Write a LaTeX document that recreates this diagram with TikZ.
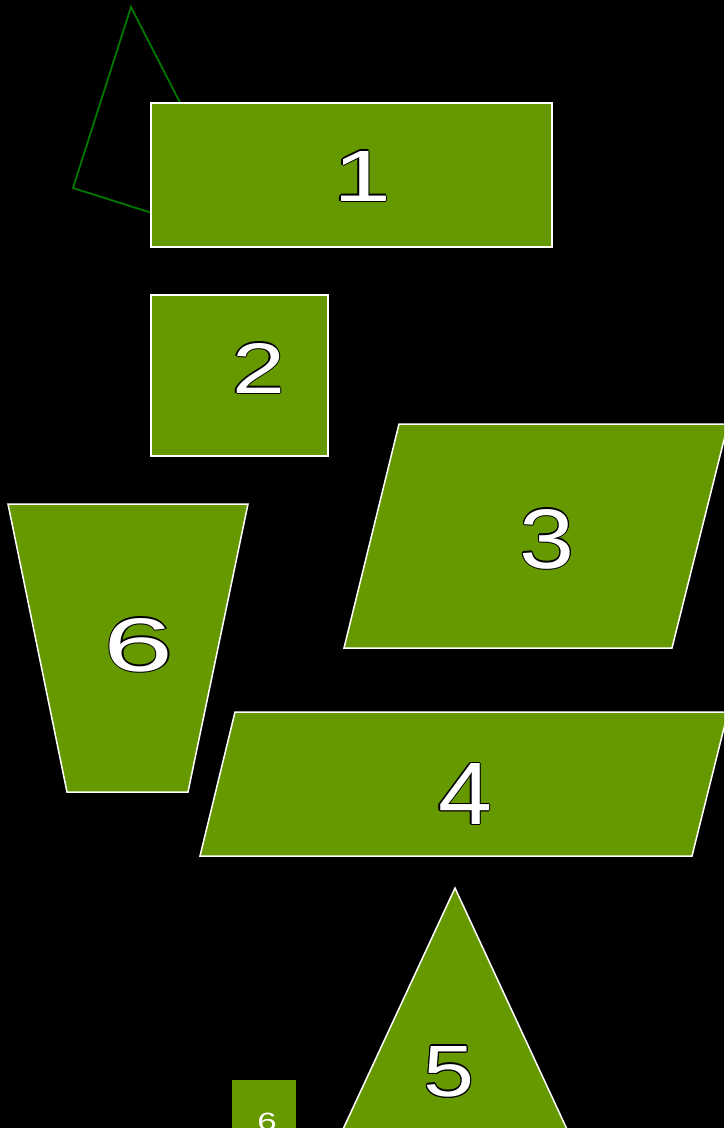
\documentclass[tikz,border=0pt]{standalone}
\usepackage{fontspec}
\setmainfont{Liberation Sans}
\definecolor{leaf}{HTML}{669900}
\definecolor{darkleaf}{HTML}{007800}
\newcommand\olcopy[3]{\rlap{\hskip#1\raisebox{#2}{\textcolor{black}{#3}}}}
\newcommand\outl[1]{\leavevmode\olcopy{1.2pt}{0pt}{#1}\olcopy{-1.2pt}{0pt}{#1}\olcopy{0pt}{1.2pt}{#1}\olcopy{0pt}{-1.2pt}{#1}\olcopy{.85pt}{.85pt}{#1}\olcopy{-.85pt}{.85pt}{#1}\olcopy{.85pt}{-.85pt}{#1}\olcopy{-.85pt}{-.85pt}{#1}\textcolor{white}{#1}}
\newcommand\bignum[3]{\fontsize{60pt}{60pt}\selectfont\outl{\resizebox{#1}{#2}{#3}}}
\tikzset{
  shapebox/.style={fill=leaf, draw=white, line width=1.5pt, line join=miter},
  numlabel/.style={inner sep=0pt, anchor=center},
}
\begin{document}
\begin{tikzpicture}[x=1pt, y=-1pt]
\useasboundingbox (0,0) rectangle (724,1128);
\clip (0,0) rectangle (724,1128);
\fill[black] (0,0) rectangle (724,1128);
% outline triangle
\draw[darkleaf, line width=1.8pt, line join=miter] (131,7) -- (73,188) -- (253,245) -- cycle;
% shape 1
\draw[shapebox] (151,103) rectangle (552,247);
% shape 2
\draw[shapebox] (151,295) rectangle (328,456);
% shape 3
\draw[shapebox] (399,424) -- (728,424) -- (672,648) -- (344,648) -- cycle;
% shape 6
\draw[shapebox] (8,504) -- (248,504) -- (188,792) -- (67,792) -- cycle;
% shape 4
\draw[shapebox] (235,712) -- (728,712) -- (692,856) -- (200,856) -- cycle;
% shape 5
\draw[shapebox] (455,888) -- (572,1140) -- (338,1140) -- cycle;
% small square
\fill[leaf] (232,1080) rectangle (296,1140);
% labels
\node[numlabel] (n1) at (362,176) {\bignum{58pt}{50pt}{1}};
\node[numlabel] (n2) at (258.5,368) {\bignum{53pt}{50pt}{2}};
\node[numlabel] (n3) at (547,539) {\bignum{55pt}{59pt}{3}};
\node[numlabel] (n6) at (139,645) {\bignum{70pt}{53pt}{6}};
\node[numlabel] (n4) at (465,794) {\bignum{54pt}{61pt}{4}};
\node[numlabel] (n5) at (449,1071.5) {\bignum{51pt}{50pt}{5}};
\node[inner sep=0pt, anchor=north, text=white] (n6s) at (267,1113) {\fontsize{25pt}{25pt}\selectfont\scalebox{1.4}[1]{6}};
\end{tikzpicture}
\end{document}
